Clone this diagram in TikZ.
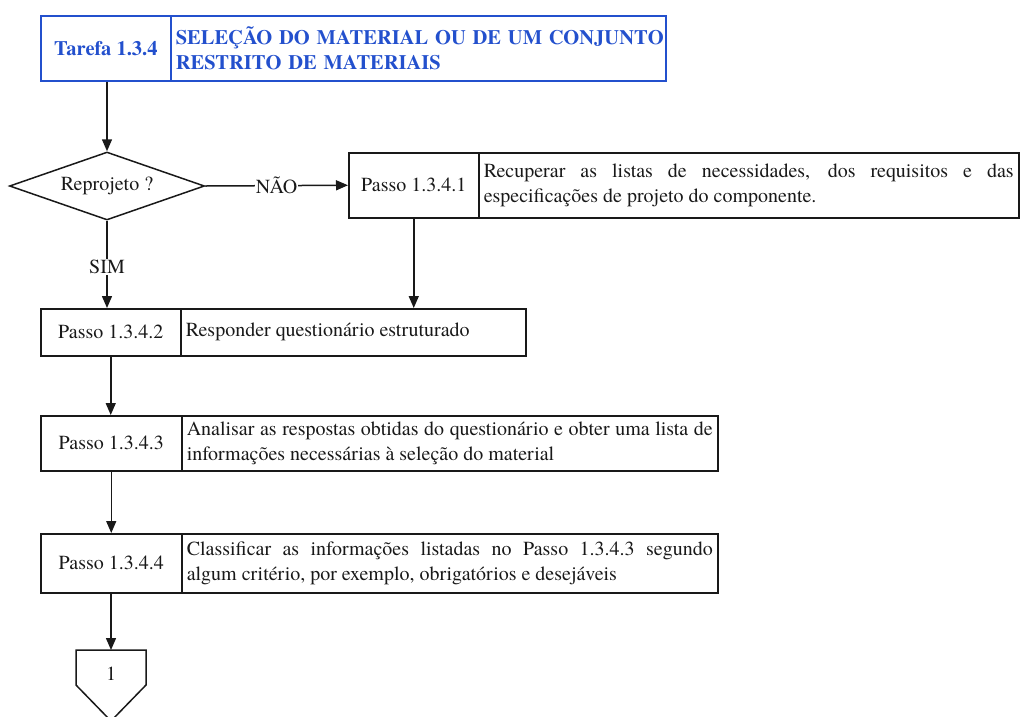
\documentclass[tikz,border=0pt]{standalone}
\usepackage{fontspec}
\setmainfont{texgyretermes}[Extension=.otf, UprightFont=*-regular, BoldFont=*-bold, ItalicFont=*-italic, BoldItalicFont=*-bolditalic]
\usetikzlibrary{shapes.geometric,arrows.meta}
\definecolor{tblue}{RGB}{35,80,205}
\definecolor{ink}{RGB}{25,25,25}
\begin{document}
\begin{tikzpicture}[x=1pt,y=-1pt,
  every node/.style={font=\fontsize{20}{25}\selectfont, text=ink},
  cell/.style={draw=ink, line width=1.5pt, inner sep=0pt, anchor=north west, align=center},
  txt/.style={draw=ink, line width=1.5pt, inner xsep=5pt, inner ysep=0pt, anchor=north west, align=justify},
  tcell/.style={draw=tblue, line width=1.6pt, inner sep=0pt, anchor=north west, align=center,
    text=tblue, font=\fontsize{20.5}{25}\selectfont\bfseries},
  ttxt/.style={draw=tblue, line width=1.6pt, inner xsep=5pt, inner ysep=0pt, anchor=north west, align=left,
    text=tblue, font=\fontsize{20.5}{25}\selectfont\bfseries},
  flow/.style={draw=ink, line width=1.5pt, -{Triangle[length=12pt,width=10pt]}},
  plain/.style={draw=ink, line width=1.5pt},
  lbl/.style={fill=white, inner sep=1pt},
  dec/.style={diamond, aspect=2.87, draw=ink, line width=1.5pt, inner sep=0pt, minimum width=195pt, minimum height=68pt}]
\useasboundingbox (0,0) rectangle (1020,716);

% Tarefa
\node[tcell, minimum width=130pt, minimum height=65pt] (t1) at (40,15) {Tarefa 1.3.4};
\node[ttxt, minimum height=65pt, text width=485pt] (t1t) at (170,15)
  {\mbox{SELEÇÃO DO MATERIAL OU DE UM CONJUNTO}\\RESTRITO DE MATERIAIS};

% Decision
\node[dec] (d) at (107,186) {Reprojeto ?};

% Passo 1.3.4.1
\node[cell, minimum width=130pt, minimum height=65pt] (p1) at (348,152) {Passo 1.3.4.1};
\node[txt, minimum height=65pt, text width=530pt] (p1t) at (478,152)
  {Recuperar as listas de necessidades, dos requisitos e das\linebreak especificações de projeto do componente.};

% Passo 1.3.4.2
\node[cell, minimum width=140pt, minimum height=47pt] (p2) at (40,308) {Passo 1.3.4.2};
\node[txt, minimum height=47pt, text width=335pt] (p2t) at (180,308)
  {Responder questionário estruturado};

% Passo 1.3.4.3
\node[cell, minimum width=141pt, minimum height=55pt] (p3) at (40,415) {Passo 1.3.4.3};
\node[txt, minimum height=55pt, text width=526pt] (p3t) at (181,415)
  {Analisar as respostas obtidas do questionário e obter uma lista de\linebreak informações necessárias à seleção do material};

% Passo 1.3.4.4
\node[cell, minimum width=141pt, minimum height=59pt] (p4) at (40,533) {Passo 1.3.4.4};
\node[txt, minimum height=59pt, text width=526pt] (p4t) at (181,533)
  {Classificar as informações listadas no Passo 1.3.4.3 segundo\linebreak algum critério, por exemplo, obrigatórios e desejáveis};

% Off-page connector
\draw[plain, line join=miter] (76,650) -- (146,650) -- (146,685) -- (111,721) -- (76,685) -- cycle;
\node (c1) at (111,674) {1};
\coordinate (c1top) at (111,650);

% Connectors
\draw[flow] (t1.south -| d.north) -- (d.north);
\draw[flow] (d.east) -- node[lbl] {NÃO} (p1.west);
\draw[flow] (d.south) -- node[lbl, pos=0.53] {SIM} (d.south |- p2.north);
\draw[flow] (p1.south) -- (p1.south |- p2t.north);
\draw[flow] (p2.south) -- (p2.south |- p3.north);
\draw[flow] (p3.south) -- (p3.south |- p4.north);
\draw[flow] (p4.south -| c1top) -- (c1top);
\end{tikzpicture}
\end{document}
